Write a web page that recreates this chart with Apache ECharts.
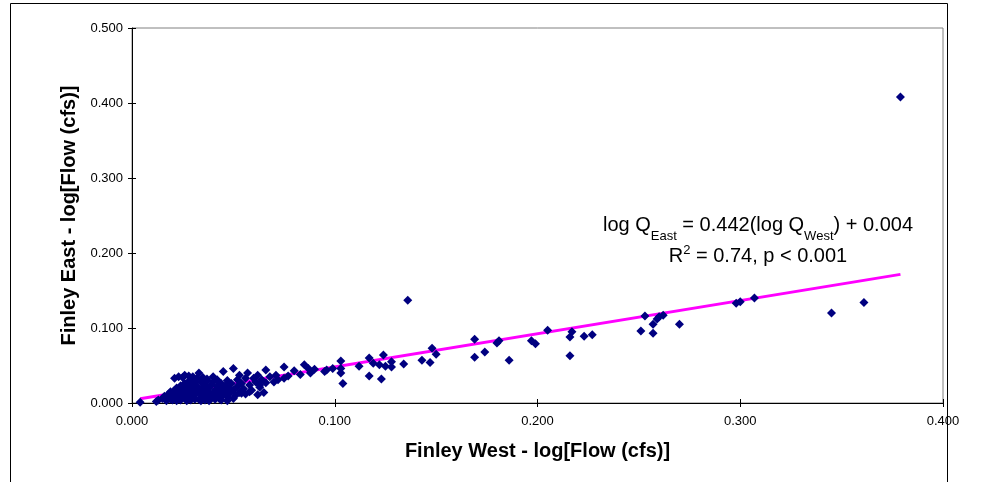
<!DOCTYPE html>
<html>
<head>
<meta charset="utf-8">
<script src="https://cdn.jsdelivr.net/npm/echarts@6/dist/echarts.min.js"></script>
<style>html,body{margin:0;padding:0;background:#fff;}#c{width:995px;height:482px;}</style>
</head>
<body>
<div id="c"></div>
<script>
var xTicks = [0, 0.1, 0.2, 0.3, 0.4];
var yTicks = [0, 0.1, 0.2, 0.3, 0.4, 0.5];
var xTitle = 'Finley West - log[Flow (cfs)]';
var yTitle = 'Finley East - log[Flow (cfs)]';
var slope = 0.442, intercept = 0.004;
var trendX = [0.004, 0.379];

var westFlow = [
0.004,0.012,0.013,0.015,0.016,0.017,0.018,0.018,0.019,0.020,0.020,0.021,0.021,0.022,0.022,0.023,0.023,0.024,0.024,0.025,
0.025,0.026,0.026,0.026,0.027,0.027,0.028,0.028,0.028,0.029,0.029,0.030,0.030,0.030,0.031,0.031,0.032,0.032,0.033,0.033,
0.033,0.034,0.034,0.035,0.035,0.036,0.036,0.037,0.037,0.038,0.038,0.039,0.039,0.040,0.040,0.041,0.041,0.042,0.042,0.043,
0.043,0.044,0.044,0.045,0.045,0.046,0.046,0.047,0.047,0.048,0.048,0.049,0.050,0.050,0.051,0.052,0.052,0.053,0.053,0.054,
0.055,0.056,0.056,0.057,0.058,0.059,0.060,0.061,0.062,0.063,0.063,0.064,0.066,0.066,0.068,0.070,0.071,0.072,0.075,0.075,
0.077,0.080,0.083,0.085,0.087,0.088,0.090,0.095,0.096,0.099,0.103,0.103,0.103,0.104,0.112,0.117,0.117,0.119,0.122,0.123,
0.124,0.125,0.128,0.128,0.134,0.136,0.143,0.147,0.148,0.150,0.169,0.169,0.174,0.180,0.181,0.186,0.197,0.199,0.205,0.216,
0.216,0.217,0.223,0.227,0.251,0.253,0.257,0.257,0.259,0.260,0.262,0.270,0.298,0.300,0.307,0.345,0.361,0.379,
0.017,0.019,0.022,0.024,0.027,0.029,0.031,0.034,0.036,0.038,0.041,0.044,0.047,0.050,0.054,0.058,0.062,0.065,
0.021,0.023,0.025,0.028,0.030,0.032,0.035,0.037,0.040
];
var eastFlow = [
0.001,0.002,0.004,0.006,0.009,0.005,0.012,0.007,0.015,0.010,0.004,0.017,0.008,0.013,0.020,0.006,0.016,0.011,0.023,0.008,
0.018,0.014,0.026,0.037,0.005,0.021,0.010,0.017,0.029,0.013,0.024,0.007,0.019,0.031,0.011,0.027,0.015,0.022,0.005,0.040,
0.018,0.012,0.028,0.008,0.021,0.016,0.025,0.010,0.030,0.014,0.020,0.006,0.024,0.012,0.028,0.017,0.009,0.022,0.031,0.014,
0.006,0.019,0.026,0.011,0.042,0.023,0.016,0.030,0.008,0.020,0.013,0.026,0.017,0.046,0.010,0.022,0.031,0.014,0.037,0.026,
0.019,0.012,0.033,0.040,0.024,0.017,0.033,0.028,0.037,0.021,0.024,0.031,0.044,0.027,0.035,0.028,0.037,0.031,0.048,0.033,
0.036,0.043,0.038,0.051,0.046,0.040,0.045,0.042,0.044,0.046,0.056,0.046,0.040,0.026,0.049,0.036,0.060,0.053,0.051,0.032,
0.064,0.049,0.055,0.048,0.052,0.137,0.057,0.054,0.073,0.065,0.085,0.061,0.068,0.080,0.083,0.057,0.083,0.079,0.097,0.063,
0.088,0.095,0.089,0.091,0.096,0.116,0.093,0.105,0.112,0.115,0.117,0.105,0.133,0.135,0.140,0.120,0.134,0.408,
0.003,0.005,0.003,0.004,0.003,0.004,0.005,0.003,0.004,0.003,0.005,0.004,0.003,0.006,0.013,0.015,0.011,0.014,
0.033,0.035,0.034,0.036,0.035,0.033,0.034,0.032,0.035
];

var points = westFlow.map(function (x, i) { return [x, eastFlow[i]]; });
var trend = trendX.map(function (x) { return [x, slope * x + intercept]; });

var chart = echarts.init(document.getElementById('c'));
var font = 'Arial, "Liberation Sans", sans-serif';
var fmt = function (v) { return v.toFixed(3); };

chart.setOption({
  animation: false,
  backgroundColor: '#fff',
  grid: { left: 132, top: 28, right: 52, bottom: 79, show: true, borderColor: '#808080', borderWidth: 1 },
  xAxis: [
    { type: 'value', min: xTicks[0], max: xTicks[xTicks.length - 1], interval: 0.1, position: 'bottom',
      name: xTitle, nameLocation: 'middle', nameGap: 38,
      nameTextStyle: { fontFamily: font, fontSize: 20, fontWeight: 'bold', color: '#000' },
      axisLine: { show: true, lineStyle: { color: '#000', width: 1 } },
      axisTick: { show: true, inside: false, length: 4, lineStyle: { color: '#000' } },
      axisLabel: { formatter: fmt, fontFamily: font, fontSize: 13, color: '#000', margin: 12 },
      splitLine: { show: false } },
    { type: 'value', min: xTicks[0], max: xTicks[xTicks.length - 1], interval: 0.1, position: 'bottom',
      axisLine: { show: false }, axisTick: { show: true, inside: true, length: 4, lineStyle: { color: '#000' } },
      axisLabel: { show: false }, splitLine: { show: false } }
  ],
  yAxis: [
    { type: 'value', min: yTicks[0], max: yTicks[yTicks.length - 1], interval: 0.1, position: 'left',
      name: yTitle, nameLocation: 'middle', nameGap: 52,
      nameTextStyle: { fontFamily: font, fontSize: 20, fontWeight: 'bold', color: '#000' },
      axisLine: { show: true, lineStyle: { color: '#000', width: 1 } },
      axisTick: { show: true, inside: false, length: 4, lineStyle: { color: '#000' } },
      axisLabel: { formatter: fmt, fontFamily: font, fontSize: 13, color: '#000', margin: 9 },
      splitLine: { show: false } },
    { type: 'value', min: yTicks[0], max: yTicks[yTicks.length - 1], interval: 0.1, position: 'left',
      axisLine: { show: false }, axisTick: { show: true, inside: true, length: 4, lineStyle: { color: '#000' } },
      axisLabel: { show: false }, splitLine: { show: false } }
  ],
  series: [
    { type: 'line', data: trend, xAxisIndex: 0, yAxisIndex: 0, symbol: 'none', z: 1,
      lineStyle: { color: '#FF00FF', width: 3 } },
    { type: 'scatter', data: points, xAxisIndex: 0, yAxisIndex: 0, symbol: 'diamond', symbolSize: [9, 9], z: 2,
      itemStyle: { color: '#000080', opacity: 1 } }
  ],
  graphic: [
    { type: 'rect', shape: { x: 10.5, y: 3.5, width: 937, height: 500 }, style: { fill: 'none', stroke: '#000', lineWidth: 1 }, silent: true, z: -1 },
    { type: 'text', x: 758, y: 224, style: {
        text: '{a|log Q}{s|East}{a| = 0.442(log Q}{s|West}{a|) + 0.004}',
        align: 'center', verticalAlign: 'middle',
        rich: {
          a: { fontFamily: font, fontSize: 20, color: '#000', lineHeight: 22, verticalAlign: 'bottom' },
          s: { fontFamily: font, fontSize: 13, color: '#000', lineHeight: 22, verticalAlign: 'bottom', padding: [0, 0, -8, 0] }
        } } },
    { type: 'text', x: 758, y: 255, style: {
        text: '{a|R}{p|2}{a| = 0.74, p < 0.001}',
        align: 'center', verticalAlign: 'middle',
        rich: {
          a: { fontFamily: font, fontSize: 20, color: '#000', lineHeight: 22, verticalAlign: 'bottom' },
          p: { fontFamily: font, fontSize: 13, color: '#000', lineHeight: 22, verticalAlign: 'top' }
        } } }
  ]
});
</script>
</body>
</html>
